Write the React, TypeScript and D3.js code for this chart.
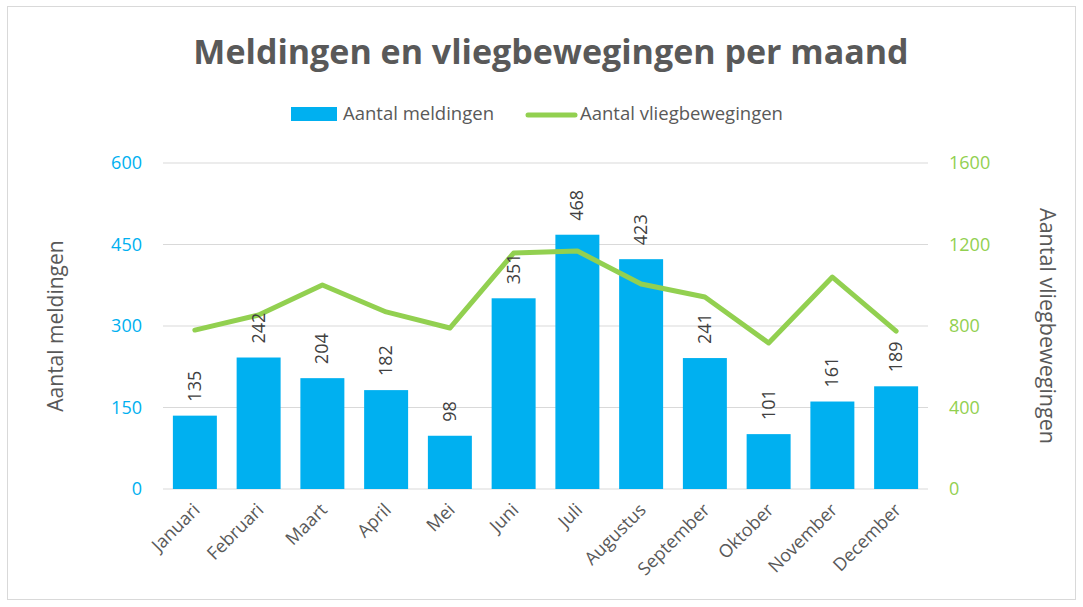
import React from "react";
import * as d3 from "d3";

// chart data
const months = [
  "Januari", "Februari", "Maart", "April", "Mei", "Juni",
  "Juli", "Augustus", "September", "Oktober", "November", "December",
];
const meldingen = [135, 242, 204, 182, 98, 351, 468, 423, 241, 101, 161, 189];
const vliegbewegingen = [780, 854, 1001, 869, 790, 1158, 1168, 1006, 942, 717, 1040, 775];
const leftTicks = [0, 150, 300, 450, 600];
const rightTicks = [0, 400, 800, 1200, 1600];

const W = 1083;
const H = 607;
const margin = { top: 163, right: 155, bottom: 118, left: 163 };

const BLUE = "#00B0F0";
const GREEN = "#92D050";
const GRAY = "#595959";
const FONT = "'Open Sans', sans-serif";

export default function App() {
  const x = d3
    .scaleBand<string>()
    .domain(months)
    .range([margin.left, W - margin.right])
    .paddingInner(0.31)
    .paddingOuter(0.155);
  const yL = d3.scaleLinear().domain([0, 600]).range([H - margin.bottom, margin.top]);
  const yR = d3.scaleLinear().domain([0, 1600]).range([H - margin.bottom, margin.top]);

  const line = d3
    .line<number>()
    .x((_, i) => (x(months[i]) as number) + x.bandwidth() / 2)
    .y((d) => yR(d));

  const x0 = margin.left;
  const x1 = W - margin.right;
  const midY = (yL(0) + yL(600)) / 2;

  return (
    <svg
      width={W}
      height={H}
      style={{ position: "absolute", left: 0, top: 0, background: "#fff" }}
      fontFamily={FONT}
    >
      <rect x={7.5} y={6.5} width={1068} height={593} fill="#fff" stroke="#d9d9d9" />

      {/* title */}
      <text x={551} y={64} textAnchor="middle" fontSize={34} fontWeight="bold" fill={GRAY}>
        Meldingen en vliegbewegingen per maand
      </text>

      {/* legend */}
      <rect x={291} y={107} width={46} height={14} fill={BLUE} />
      <text x={343} y={120} fontSize={18.5} fill={GRAY}>Aantal meldingen</text>
      <line x1={528} x2={575} y1={115} y2={115} stroke={GREEN} strokeWidth={5} strokeLinecap="round" />
      <text x={580} y={120} fontSize={18.5} fill={GRAY}>Aantal vliegbewegingen</text>

      {/* gridlines */}
      {leftTicks.map((t) => (
        <line key={t} x1={x0} x2={x1} y1={yL(t)} y2={yL(t)} stroke="#d9d9d9" strokeWidth={1} />
      ))}

      {/* left ticks */}
      {leftTicks.map((t) => (
        <text key={t} x={142} y={yL(t) + 6} textAnchor="end" fontSize={18} fill={BLUE}>
          {t}
        </text>
      ))}
      {/* right ticks */}
      {rightTicks.map((t) => (
        <text key={t} x={949} y={yR(t) + 6} fontSize={18} fill={GREEN}>
          {t}
        </text>
      ))}

      {/* axis titles */}
      <text
        transform={`translate(63,${midY}) rotate(-90)`}
        textAnchor="middle"
        fontSize={21}
        fill={GRAY}
      >
        Aantal meldingen
      </text>
      <text
        transform={`translate(1040,${midY}) rotate(90)`}
        textAnchor="middle"
        fontSize={21.5}
        fill={GRAY}
      >
        Aantal vliegbewegingen
      </text>

      {/* bars */}
      {meldingen.map((v, i) => (
        <rect
          key={months[i]}
          x={x(months[i])}
          y={yL(v)}
          width={x.bandwidth()}
          height={yL(0) - yL(v)}
          fill={BLUE}
        />
      ))}

      {/* line */}
      <path d={line(vliegbewegingen) || ""} fill="none" stroke={GREEN} strokeWidth={5} strokeLinejoin="round" strokeLinecap="round" />

      {/* bar labels */}
      {meldingen.map((v, i) => {
        const cx = (x(months[i]) as number) + x.bandwidth() / 2;
        return (
          <text
            key={months[i]}
            transform={`translate(${cx + 6},${yL(v) - 14}) rotate(-90)`}
            fontSize={18}
            fill="#404040"
          >
            {v}
          </text>
        );
      })}

      {/* category labels */}
      {months.map((m) => {
        const cx = (x(m) as number) + x.bandwidth() / 2;
        return (
          <text
            key={m}
            transform={`translate(${cx + 6},${yL(0) + 22}) rotate(-45)`}
            textAnchor="end"
            fontSize={18}
            fill={GRAY}
          >
            {m}
          </text>
        );
      })}
    </svg>
  );
}
